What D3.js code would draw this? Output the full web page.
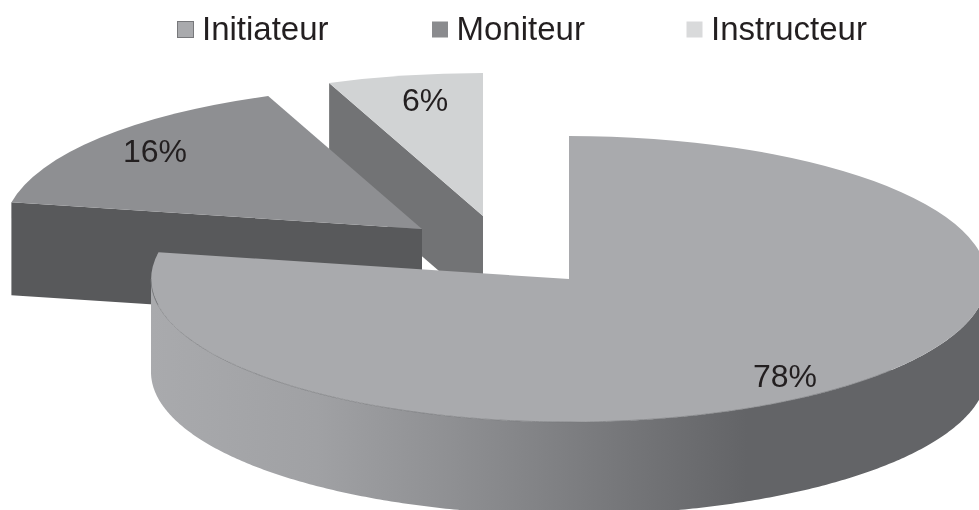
<!DOCTYPE html>
<html>
<head>
<meta charset="utf-8">
<script src="https://cdn.jsdelivr.net/npm/d3@7"></script>
<style>
  html, body { margin: 0; padding: 0; background: #fff; overflow: hidden; }
  svg { display: block; filter: blur(0.5px); }
  text { font-family: "Liberation Sans", Arial, sans-serif; fill: #231f20; }
</style>
</head>
<body>
<script>
let categories = ['Initiateur', 'Moniteur', 'Instructeur']
let values = [78, 16, 6]

let width = 979
let height = 510

// ellipse of the tilted pie, same for all slices
let rx = 418
let ry = 143
let depth = 93

// exploded slice apexes, in data order
let centers = [[569, 279], [422, 229], [483, 216]]
let label_pos = [[785, 387], [155, 162], [425, 111]]
let top_colors = ['#a9aaad', '#8e8f92', '#d1d3d4']
let wall_colors = [null, '#58595b', '#727375']
let swatch_colors = ['#a9aaad', '#8a8b8e', '#d9dadb']

let pie = d3.pie().sort(null).startAngle(0).endAngle(2 * Math.PI)
let arcs = pie(values)

function rim(c, a, drop = 0) {
  return [c[0] + rx * Math.sin(a), c[1] - ry * Math.cos(a) + drop]
}

const svg = d3.select('body').append('svg')
    .attr('width', width)
    .attr('height', height)
    .attr('viewBox', [0, 0, width, height])

let grad = svg.append('defs').append('linearGradient')
    .attr('id', 'side')
    .attr('gradientUnits', 'userSpaceOnUse')
    .attr('x1', 151).attr('x2', 979).attr('y1', 0).attr('y2', 0)

for (let [off, col] of [[0, '#a9aaad'], [0.2, '#a0a1a4'], [0.36, '#8f9093'], [0.5, '#7e7f82'], [0.72, '#636467'], [1, '#636467']]) {
  grad.append('stop').attr('offset', off).attr('stop-color', col)
}

let line = d3.line()
let arc = d3.arc().innerRadius(0).outerRadius(1)

// back to front: smallest slice first
for (let i of [2, 1, 0]) {
  let d = arcs[i]
  let c = centers[i]
  let g = svg.append('g').attr('class', 'slice')

  if (wall_colors[i]) {
    // radial cut facing the viewer
    g.append('path')
      .attr('d', line([rim(c, d.startAngle), c, [c[0], c[1] + depth], rim(c, d.startAngle, depth)]) + 'Z')
      .attr('fill', wall_colors[i])
  } else {
    // outer wall of the big slice, from right around the front to the left
    let angles = d3.range(Math.PI / 2, 3 * Math.PI / 2 + 0.001, 0.01)
    let pts = angles.map(a => rim(c, a)).concat(angles.slice().reverse().map(a => rim(c, a, depth)))
    g.append('path')
      .attr('d', line(pts) + 'Z')
      .attr('fill', 'url(#side)')
  }

  g.append('path')
    .attr('d', arc(d))
    .attr('transform', `translate(${c[0]},${c[1]}) scale(${rx},${ry})`)
    .attr('fill', top_colors[i])
}

// thin edge between top face and wall on the left part of the big slice
let edge = d3.range(Math.PI * 0.72, 3 * Math.PI / 2, 0.01).map(a => rim(centers[0], a))
svg.append('path')
  .attr('d', line(edge))
  .attr('fill', 'none')
  .attr('stroke', '#77787b')
  .attr('stroke-width', 0.7)

svg.append('g')
  .selectAll('text')
  .data(values)
  .join('text')
    .attr('x', (d, i) => label_pos[i][0])
    .attr('y', (d, i) => label_pos[i][1])
    .attr('text-anchor', 'middle')
    .style('font-size', '32px')
    .text(d => d + '%')

let legend_x = d3.scalePoint().domain(categories).range([177, 686])

let legend = svg.append('g')
  .selectAll('g')
  .data(categories)
  .join('g')
    .attr('transform', d => `translate(${legend_x(d)},0)`)

legend.append('rect')
  .attr('x', 0.5).attr('y', 21.5)
  .attr('width', 16).attr('height', 16)
  .attr('fill', (d, i) => swatch_colors[i])
  .attr('stroke', (d, i) => i === 0 ? '#77787b' : 'none')

legend.append('text')
  .attr('x', 25)
  .attr('y', 40)
  .style('font-size', '33px')
  .text(d => d)
</script>
</body>
</html>
